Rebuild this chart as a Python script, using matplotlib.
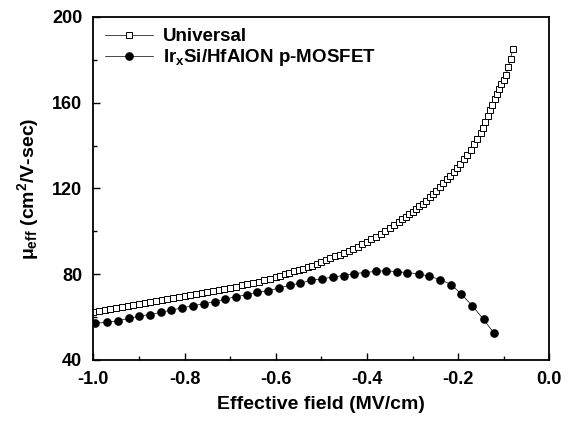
import matplotlib.pyplot as plt
from matplotlib.ticker import MultipleLocator

# Universal mobility curve
universal_field = [
    -1.000, -0.9875, -0.975, -0.9625, -0.950, -0.9375, -0.925, -0.9125,
    -0.900, -0.8875, -0.875, -0.8625, -0.850, -0.8375, -0.825, -0.8125,
    -0.800, -0.7875, -0.775, -0.7625, -0.750, -0.7375, -0.725, -0.7125,
    -0.700, -0.6875, -0.675, -0.6625, -0.650, -0.6375, -0.625, -0.6125,
    -0.600, -0.59, -0.58, -0.57, -0.56, -0.55, -0.54, -0.53, -0.52, -0.51,
    -0.50, -0.49, -0.48, -0.47, -0.46, -0.45, -0.44, -0.43, -0.42, -0.41,
    -0.40, -0.39, -0.38, -0.37, -0.36, -0.35, -0.34, -0.33,
    -0.3225, -0.315, -0.3075, -0.300, -0.2925, -0.285, -0.2775, -0.270,
    -0.2625, -0.255, -0.2475, -0.240, -0.2325, -0.225, -0.2175, -0.210,
    -0.2025, -0.195, -0.1875, -0.180, -0.1725, -0.165, -0.1575, -0.150,
    -0.145, -0.140, -0.135, -0.130, -0.125, -0.120, -0.115, -0.110,
    -0.105, -0.100, -0.095, -0.090, -0.085, -0.080,
]
universal_mu = [
    62.5, 62.9, 63.3, 63.8, 64.2, 64.6, 65.1, 65.5,
    66.0, 66.4, 66.9, 67.3, 67.8, 68.3, 68.7, 69.2,
    69.7, 70.2, 70.6, 71.1, 71.6, 72.1, 72.6, 73.1,
    73.6, 74.2, 74.8, 75.4, 76.0, 76.6, 77.2, 78.0,
    78.8, 79.4, 80.0, 80.6, 81.3, 81.9, 82.6, 83.3, 84.0, 84.9,
    85.8, 86.6, 87.4, 88.3, 89.1, 90.0, 90.9, 91.8, 92.9, 93.9,
    95.0, 96.2, 97.4, 98.7, 100.1, 101.5, 102.9, 104.4,
    105.6, 106.8, 107.9, 109.0, 110.3, 111.6, 112.9, 114.3,
    115.8, 117.3, 119.0, 120.7, 122.4, 124.2, 126.0, 127.8,
    129.7, 131.6, 133.6, 135.7, 138.0, 140.5, 143.2, 146.0,
    148.3, 150.8, 153.6, 156.4, 159.0, 161.5, 164.0, 166.5,
    168.5, 170.5, 173.0, 176.5, 180.5, 185.0,
]

# IrxSi/HfAlON p-MOSFET
device_field = [
    -0.996, -0.970, -0.946, -0.922, -0.899, -0.876, -0.852, -0.829,
    -0.805, -0.781, -0.758, -0.734, -0.711, -0.687, -0.664, -0.640,
    -0.616, -0.593, -0.569, -0.546, -0.522, -0.498, -0.475, -0.451,
    -0.428, -0.404, -0.381, -0.358, -0.334, -0.311, -0.286, -0.263,
    -0.240, -0.215, -0.193, -0.169, -0.144, -0.121,
]
device_mu = [
    57.2, 57.5, 58.3, 59.4, 60.5, 61.2, 62.2, 63.3,
    64.3, 65.3, 66.2, 67.1, 68.4, 69.5, 70.4, 71.5,
    72.4, 73.5, 74.9, 75.8, 77.2, 77.8, 78.7, 79.4,
    80.3, 80.8, 81.3, 81.7, 81.1, 80.8, 80.1, 79.1,
    77.5, 75.2, 70.7, 65.3, 58.9, 52.4,
]

plt.rcParams["font.family"] = ["Liberation Sans", "DejaVu Sans"]
plt.rcParams["font.weight"] = "bold"
plt.rcParams["axes.unicode_minus"] = False
plt.rcParams["mathtext.fontset"] = "custom"
plt.rcParams["mathtext.rm"] = "Liberation Sans:bold"
plt.rcParams["mathtext.it"] = "Liberation Sans:bold"
plt.rcParams["mathtext.bf"] = "Liberation Sans:bold"

fig = plt.figure(figsize=(5.7, 4.21), dpi=100)
ax = fig.add_axes([0.1637, 0.1449, 0.80, 0.815])

ax.plot(universal_field, universal_mu, color="black", lw=0.5,
        marker="s", markersize=4.2, markerfacecolor="white",
        markeredgecolor="black", markeredgewidth=0.7, label="Universal")
ax.plot(device_field, device_mu, color="black", lw=0.5,
        marker="o", markersize=5.2, markerfacecolor="black",
        markeredgecolor="black", label=r"Ir$_\mathrm{x}$Si/HfAlON p-MOSFET")

ax.set_xlim(-1.0, 0.0)
ax.set_ylim(40, 200)
ax.xaxis.set_major_locator(MultipleLocator(0.2))
ax.xaxis.set_minor_locator(MultipleLocator(0.1))
ax.yaxis.set_major_locator(MultipleLocator(40))
ax.yaxis.set_minor_locator(MultipleLocator(20))
ax.tick_params(which="both", direction="in", top=False, right=False,
               labelsize=13, width=1)
ax.tick_params(which="major", length=5)
ax.tick_params(which="minor", length=3)
ax.tick_params(axis="x", pad=8)
ax.tick_params(axis="y", pad=8)
for label in ax.get_xticklabels() + ax.get_yticklabels():
    label.set_fontweight("bold")
for sp in ax.spines.values():
    sp.set_linewidth(1.3)

ax.set_xlabel("Effective field (MV/cm)", fontsize=14, fontweight="bold",
              labelpad=6)
ax.set_ylabel(r"$\mu_\mathrm{eff}$ (cm$^\mathrm{2}$/V-sec)", fontsize=14,
              fontweight="bold", labelpad=8)

leg = ax.legend(loc="upper left", frameon=False, fontsize=13.5,
                handlelength=2.6, handletextpad=0.5, borderaxespad=0.2,
                labelspacing=0.1)
for t in leg.get_texts():
    t.set_fontweight("bold")

fig.savefig("out.png", dpi=100)
